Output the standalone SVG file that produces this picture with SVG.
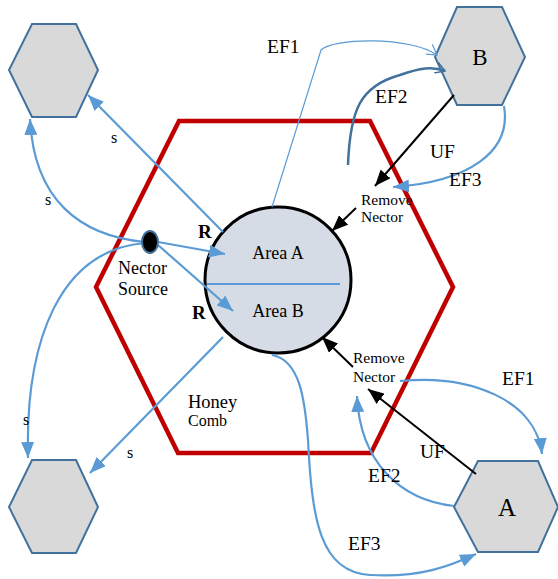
<svg xmlns="http://www.w3.org/2000/svg" width="558" height="579" viewBox="0 0 558 579">
<style>
text{font-family:"Liberation Serif","Times New Roman",serif;fill:#000}
.hex{fill:#D9D9D9;stroke:#41719C;stroke-width:2}
.blue{fill:none;stroke:#5B9BD5;stroke-width:2.2}
.blk{fill:none;stroke:#000;stroke-width:2}
.lbl{font-size:19.5px}
.s{font-size:16px}
.rn{font-size:15.5px}
</style>
<defs>
<marker id="ab" markerUnits="userSpaceOnUse" markerWidth="17" markerHeight="13" refX="16" refY="6.5" orient="auto"><path d="M0,0 L16,6.5 L0,13 z" fill="#5B9BD5"/></marker>
<marker id="ak" markerUnits="userSpaceOnUse" markerWidth="17" markerHeight="13" refX="16" refY="6.5" orient="auto"><path d="M0,0 L16,6.5 L0,13 z" fill="#000"/></marker>
<marker id="ao" markerUnits="userSpaceOnUse" markerWidth="12" markerHeight="12" refX="10" refY="6" orient="auto"><path d="M0,0 L10,6 L0,12" fill="none" stroke="#5B9BD5" stroke-width="1.2"/></marker>
<marker id="ao2" markerUnits="userSpaceOnUse" markerWidth="12" markerHeight="12" refX="10" refY="6" orient="auto"><path d="M0,0 L10,6 L0,12" fill="none" stroke="#41719C" stroke-width="1.5"/></marker>
</defs>

<g id="honeycomb">
<polygon points="179,121 370,121 453,287 371,453 178,453 96,287" fill="none" stroke="#C00000" stroke-width="4.5"/>
<text x="188" y="408" font-size="18.5">Honey</text>
<text x="188" y="426" font-size="16">Comb</text>
</g>

<g id="area">
<circle cx="278" cy="280" r="73" fill="#D6DCE5" stroke="#000" stroke-width="3"/>
<line x1="207" y1="284" x2="340" y2="284" stroke="#5B9BD5" stroke-width="2"/>
<text x="278" y="259" font-size="18" text-anchor="middle">Area A</text>
<text x="278" y="317" font-size="18" text-anchor="middle">Area B</text>
</g>

<g id="hex-top-left"><polygon class="hex" points="32,24 76,24 98,70 76,117 32,117 9,70"/></g>
<g id="hex-bottom-left"><polygon class="hex" points="32,460 76,460 98,507 76,553 32,553 9,507"/></g>
<g id="hex-B"><polygon class="hex" points="457,7 502,7 525,57 502,105 457,105 435,57"/><text x="480" y="65" font-size="23" text-anchor="middle">B</text></g>
<g id="hex-A"><polygon class="hex" points="478,461 538,461 558,507 538,552 478,552 454,507"/><text x="507" y="516" font-size="25" text-anchor="middle">A</text></g>

<g id="connectors">
<line class="blue" x1="223" y1="232" x2="88" y2="95" marker-end="url(#ab)"/>
<path class="blue" d="M145,242 C80,236 34,200 30,119" marker-end="url(#ab)"/>
<path class="blue" d="M145,243 C60,250 25,340 28,458" marker-end="url(#ab)"/>
<line class="blue" x1="223" y1="337" x2="90" y2="473" marker-end="url(#ab)"/>
<line class="blue" x1="158" y1="242" x2="225" y2="254" marker-end="url(#ab)"/>
<line class="blue" x1="158" y1="245" x2="233" y2="311" marker-end="url(#ab)"/>
<path d="M272,207 L321,50 C332,38 410,36 437,55" fill="none" stroke="#5B9BD5" stroke-width="1.2" marker-end="url(#ao)"/>
<path d="M348,165 C350,110 360,86 400,75 C420,68 432,66 445,71" fill="none" stroke="#41719C" stroke-width="2.5" marker-end="url(#ao2)"/>
<line class="blk" x1="454" y1="95" x2="375" y2="186" marker-end="url(#ak)"/>
<path class="blue" d="M504,106 C512,152 468,182 393,187" marker-end="url(#ab)"/>
<line class="blk" x1="356" y1="208" x2="332" y2="231" marker-end="url(#ak)"/>
<line class="blk" x1="353" y1="367" x2="322" y2="337" marker-end="url(#ak)"/>
<line class="blk" x1="476" y1="474" x2="368" y2="389" marker-end="url(#ak)"/>
<path class="blue" d="M400,381 C470,374 536,400 542,454" marker-end="url(#ab)"/>
<path class="blue" d="M454,506 C400,500 360,462 357,396" marker-end="url(#ab)"/>
<path class="blue" d="M272,355 C300,360 305,400 308,440 C312,520 320,572 370,575 C420,578 450,566 476,554" marker-end="url(#ab)"/>
</g>

<g id="nector-source">
<ellipse cx="150" cy="242" rx="8" ry="11" fill="#000" stroke="#41719C" stroke-width="2"/>
<text x="118" y="274" font-size="18">Nector</text>
<text x="118" y="295" font-size="18">Source</text>
</g>

<g id="labels">
<text x="198" y="238" font-size="19" font-weight="bold">R</text>
<text x="192" y="319" font-size="19" font-weight="bold">R</text>
<text class="s" x="111" y="143">s</text>
<text class="s" x="45" y="205">s</text>
<text class="s" x="23" y="425">s</text>
<text class="s" x="127" y="458">s</text>
<text class="lbl" x="267" y="53">EF1</text>
<text class="lbl" x="375" y="103">EF2</text>
<text class="lbl" x="430" y="158">UF</text>
<text class="lbl" x="449" y="186">EF3</text>
<text class="lbl" x="502" y="385">EF1</text>
<text class="lbl" x="420" y="458">UF</text>
<text class="lbl" x="368" y="482">EF2</text>
<text class="lbl" x="348" y="550">EF3</text>
<text class="rn" x="361" y="205">Remove</text>
<text class="rn" x="361" y="222">Nector</text>
<text class="rn" x="353" y="363">Remove</text>
<text class="rn" x="353" y="382">Nector</text>
</g>
</svg>
